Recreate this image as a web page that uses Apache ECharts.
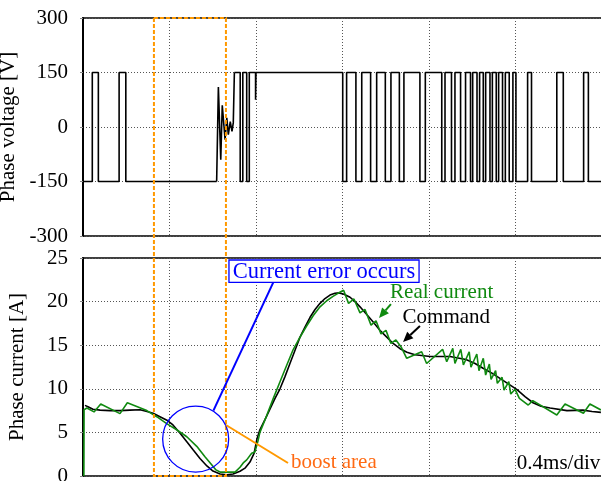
<!DOCTYPE html>
<html><head><meta charset="utf-8">
<script src="https://cdn.jsdelivr.net/npm/echarts/dist/echarts.min.js"></script>
<style>html,body{margin:0;padding:0;background:#fff}#c{width:601px;height:481px}</style>
</head><body><div id="c"></div>
<script>
// ---- data (time in ms) ----
// phase voltage: switching instants and level held from that instant (null = gap)
const voltStepTime  = [0, 0.043, 0.071, 0.167, 0.198, 0.618, 0.619, 0.700, 0.727, 0.739, 0.757, 0.769, 0.798, 0.800,
  1.201, 1.219, 1.262, 1.289, 1.330, 1.358, 1.398, 1.424, 1.463, 1.484, 1.558, 1.583, 1.659, 1.674, 1.704, 1.720,
  1.746, 1.769, 1.792, 1.802, 1.822, 1.834, 1.851, 1.862, 1.882, 1.893, 1.911, 1.922, 1.940, 1.953, 1.971, 1.988,
  2.002, 2.056, 2.074, 2.191, 2.221, 2.315, 2.337, 2.4];
const voltStepValue = [-150, 150, -150, 150, -150, -150, null, 150, -150, 150, -150, 150, 75, 150,
  -150, 150, -150, 150, -150, 150, -150, 150, -150, 150, -150, 150, -150, 150, -150, 150,
  -150, 150, -150, 150, -150, 150, -150, 150, -150, 150, -150, 150, -150, 150, -150, 150,
  -150, 150, -150, 150, -150, 150, -150, -150];
// ringing at the end of the boost area
const ringTime  = [0.618, 0.626, 0.637, 0.644, 0.657, 0.665, 0.672, 0.681, 0.689, 0.695, 0.6995, 0.700];
const ringValue = [-150, 110, -90, 60, -35, 25, -21, 15, -12, 12, 10, 150];
// phase current: command
const cmdTime  = [0.009, 0.023, 0.046, 0.079, 0.125, 0.171, 0.217, 0.264, 0.296, 0.324, 0.356, 0.388, 0.416, 0.449,
  0.481, 0.509, 0.541, 0.573, 0.601, 0.634, 0.666, 0.694, 0.726, 0.749, 0.772, 0.791, 0.805, 0.818, 0.842, 0.865,
  0.888, 0.911, 0.934, 0.957, 0.980, 1.003, 1.027, 1.050, 1.073, 1.096, 1.119, 1.142, 1.165, 1.184, 1.207, 1.235,
  1.258, 1.281, 1.309, 1.341, 1.373, 1.406, 1.434, 1.466, 1.498, 1.535, 1.605, 1.697, 1.771, 1.813, 1.850, 1.891,
  1.928, 1.965, 2.007, 2.044, 2.081, 2.118, 2.160, 2.238, 2.312, 2.354, 2.395];
const cmdValue = [8.1, 7.95, 7.65, 7.55, 7.5, 7.5, 7.55, 7.6, 7.4, 7.2, 6.8, 6.4, 5.85, 4.9,
  3.9, 3.0, 2.0, 1.15, 0.57, 0.23, 0.15, 0.23, 0.55, 0.9, 1.6, 2.6, 4.3, 5.3, 6.5, 7.7,
  8.9, 10.0, 11.4, 12.9, 14.4, 15.9, 17.1, 18.2, 19.1, 19.8, 20.35, 20.75, 20.95, 21.0, 20.85, 20.5,
  20.0, 19.4, 18.6, 17.7, 16.7, 15.9, 15.2, 14.6, 14.2, 13.9, 13.7, 13.7, 13.35, 12.9, 12.35, 11.8,
  11.2, 10.6, 9.9, 9.1, 8.4, 8.0, 7.8, 7.5, 7.55, 7.4, 7.3];
// phase current: real current
const realTime  = [0.004, 0.005, 0.018, 0.051, 0.082, 0.171, 0.205, 0.295, 0.341, 0.387, 0.433, 0.480, 0.526, 0.564,
  0.595, 0.615, 0.634, 0.703, 0.712, 0.726, 0.741, 0.757, 0.764, 0.780, 0.795, 0.809, 0.818, 0.849, 0.880, 0.911,
  0.942, 0.972, 1.003, 1.034, 1.065, 1.096, 1.127, 1.156, 1.179, 1.205, 1.228, 1.253, 1.281, 1.304, 1.332, 1.355,
  1.378, 1.401, 1.424, 1.447, 1.471, 1.497, 1.566, 1.589, 1.663, 1.682, 1.710, 1.720, 1.747, 1.759, 1.786, 1.794,
  1.821, 1.831, 1.851, 1.862, 1.879, 1.887, 1.908, 1.916, 1.938, 1.947, 1.969, 1.978, 1.998, 2.018, 2.059, 2.080,
  2.191, 2.229, 2.314, 2.344, 2.395];
const realValue = [0, 7.6, 7.8, 7.35, 8.25, 7.15, 8.4, 7.5, 6.8, 6.0, 5.3, 4.5, 3.4, 2.2,
  1.3, 0.7, 0.45, 0.45, 0.55, 1.0, 1.5, 1.85, 1.9, 2.6, 2.75, 4.0, 5.0, 6.9, 8.9, 10.8,
  12.7, 14.5, 15.9, 17.2, 18.4, 19.4, 20.1, 20.6, 20.95, 21.3, 19.8, 20.3, 18.7, 19.1, 17.3, 17.8,
  16.3, 16.7, 15.2, 15.6, 14.8, 13.5, 14.25, 12.9, 14.53, 13.1, 14.64, 12.92, 14.53, 12.73, 14.25, 12.47,
  13.99, 12.08, 13.5, 11.58, 12.84, 11.09, 12.08, 10.63, 11.32, 9.86, 10.82, 9.4, 9.94, 8.9, 8.14, 8.64,
  7.0, 8.26, 7.19, 8.26, 7.57];
const timeRange = [0, 2.4], timeDiv = 0.4;
const voltRange = [-300, 300], voltDiv = 150;
const currRange = [0, 25], currDiv = 5;

const FONT = "'Liberation Serif','Times New Roman',serif";
const chart = echarts.init(document.getElementById('c'), null, {renderer: 'canvas'});
const pairs = (a, b) => a.map((t, i) => [t, b[i]]);
const split = {show: true, lineStyle: {color: '#555', type: [1, 2], width: 1}};
const xAx = gi => ({type: 'value', gridIndex: gi, min: timeRange[0], max: timeRange[1], interval: timeDiv,
  axisLabel: {show: false}, axisTick: {show: false}, axisLine: {show: false}, splitLine: split});
const yAx = (gi, r, d, name) => ({type: 'value', gridIndex: gi, min: r[0], max: r[1], interval: d,
  axisLine: {show: true, lineStyle: {color: '#000', width: 2}},
  axisTick: {show: true, length: 3, lineStyle: {color: '#888'}},
  axisLabel: {color: '#000', fontSize: 21, fontFamily: FONT, margin: 15},
  splitLine: split,
  name: name, nameLocation: 'middle', nameGap: 55,
  nameTextStyle: {color: '#000', fontSize: 21, fontFamily: FONT}});
const lineS = (xi, data, color, step) => ({type: 'line', xAxisIndex: xi, yAxisIndex: xi, data: data, step: step || false,
  symbol: 'none', showSymbol: false, connectNulls: false, animation: false,
  lineStyle: {color: color, width: 1.6}});
const gridBase = {left: 83, width: 519, height: 218, show: true, borderColor: '#000', borderWidth: 1.5,
  containLabel: false, outerBoundsMode: 'none'};

chart.setOption({
  animation: false,
  grid: [Object.assign({top: 18}, gridBase), Object.assign({top: 258}, gridBase)],
  xAxis: [xAx(0), xAx(1)],
  yAxis: [yAx(0, voltRange, voltDiv, 'Phase voltage [V]'), yAx(1, currRange, currDiv, 'Phase current [A]')],
  series: [
    lineS(0, pairs(voltStepTime, voltStepValue), '#000', 'end'),
    lineS(0, pairs(ringTime, ringValue), '#000'),
    lineS(1, pairs(cmdTime, cmdValue), '#000'),
    lineS(1, pairs(realTime, realValue), '#108a10')
  ]
});

const P = (gi, t, v) => chart.convertToPixel({gridIndex: gi}, [t, v]);
function arrow(a, b, color, lw, hl, hw) {
  const dx = b[0] - a[0], dy = b[1] - a[1], L = Math.hypot(dx, dy);
  const ux = dx / L, uy = dy / L, bx = b[0] - ux * hl, by = b[1] - uy * hl;
  return [
    {type: 'line', z: 50, shape: {x1: a[0], y1: a[1], x2: bx, y2: by}, style: {stroke: color, lineWidth: lw}},
    {type: 'polygon', z: 50, shape: {points: [b, [bx - uy * hw / 2, by + ux * hw / 2], [bx + uy * hw / 2, by - ux * hw / 2]]},
      style: {fill: color}}
  ];
}
const boxTL = P(0, 0.328, 300), boxBR = P(1, 0.661, 0);
const circ = P(1, 0.521, 4.24);
const lblTL = P(1, 0.675, 24.77), lblBR = P(1, 1.554, 22.2);
const blueA = P(1, 0.603, 7.49), blueB = P(1, 0.880, 22.2);
const orA = P(1, 0.661, 5.85), orB = P(1, 0.948, 1.49);
const boostPos = P(1, 0.962, 1.6);
const realPos = P(1, 1.420, 20.99), cmdPos = P(1, 1.478, 18.2);
const divPos = P(1, 2.392, 1.38);
const txt = (pos, s, color, align, size) => ({type: 'text', z: 60, x: pos[0], y: pos[1],
  style: {text: s, fill: color, font: (size || 21) + 'px ' + FONT, textAlign: align || 'left', textVerticalAlign: 'middle'}});

chart.setOption({graphic: [].concat(
  [{type: 'rect', z: 40, shape: {x: boxTL[0], y: boxTL[1], width: boxBR[0] - boxTL[0], height: boxBR[1] - boxTL[1]},
    style: {fill: 'none', stroke: '#ff9900', lineWidth: 2, lineDash: [4, 2]}},
   {type: 'circle', z: 45, shape: {cx: circ[0], cy: circ[1], r: 33}, style: {fill: 'none', stroke: '#0000ff', lineWidth: 1.3}},
   {type: 'line', z: 45, shape: {x1: blueA[0], y1: blueA[1], x2: blueB[0], y2: blueB[1]}, style: {stroke: '#0000ff', lineWidth: 2}},
   {type: 'rect', z: 55, shape: {x: lblTL[0], y: lblTL[1], width: lblBR[0] - lblTL[0], height: lblBR[1] - lblTL[1]},
    style: {fill: '#fff', stroke: '#0000ff', lineWidth: 1.3}},
   txt([(lblTL[0] + lblBR[0]) / 2, (lblTL[1] + lblBR[1]) / 2 + 1], 'Current error occurs', '#0000ff', 'center', 22.5),
   {type: 'line', z: 45, shape: {x1: orA[0], y1: orA[1], x2: orB[0], y2: orB[1]}, style: {stroke: '#ff9900', lineWidth: 2}},
   txt(boostPos, 'boost area', '#ff6a13'),
   txt(realPos, 'Real current', '#108a10'),
   txt(cmdPos, 'Command', '#000'),
   txt(divPos, '0.4ms/div', '#000', 'right')],
  arrow(P(1, 1.424, 19.72), P(1, 1.369, 18.12), '#108a10', 2, 10, 9),
  arrow(P(1, 1.558, 17.2), P(1, 1.480, 15.37), '#000', 2, 10, 9)
)});
</script></body></html>
